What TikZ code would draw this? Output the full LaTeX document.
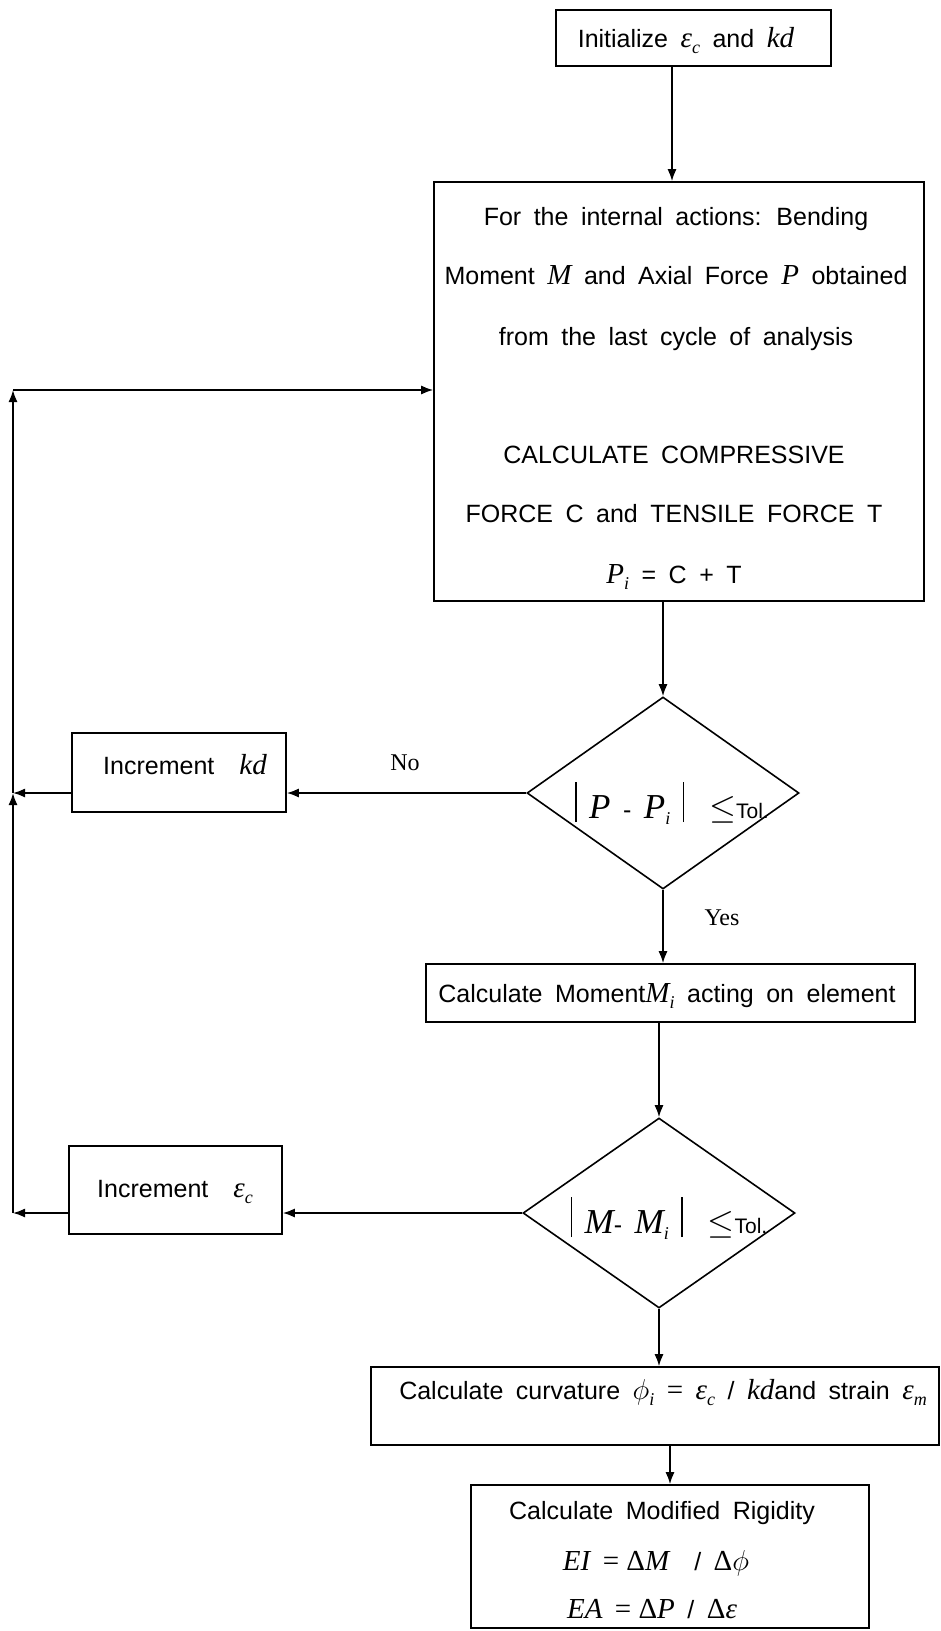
\documentclass[tikz,border=0pt]{standalone}
\usepackage{amsmath}
\usepackage{fontspec}
\setmainfont{Liberation Sans}[WordSpace=1.8]
\newfontfamily\labelfont{Liberation Serif}
\usetikzlibrary{shapes.geometric,arrows.meta}
% math-like pieces in a Times-like italic
\newcommand\V[1]{{\labelfont\itshape\fontsize{14.5}{17}\selectfont #1}}
\newcommand\VV[1]{{\labelfont\itshape\fontsize{17.5}{20}\selectfont #1}}
\newcommand\Sb[1]{\raisebox{-3pt}{\labelfont\itshape\fontsize{9}{10}\selectfont #1}}
\newcommand\Up[1]{{\labelfont\fontsize{14.5}{17}\selectfont #1}}
\newcommand\absbar{\rule[-2pt]{0.7pt}{20pt}}
\begin{document}
\begin{tikzpicture}[x=0.5pt,y=-0.5pt, line width=0.8pt,
  >={Latex[length=6pt,width=4.5pt]},
  box/.style={draw, rectangle, inner sep=0pt},
  dec/.style={draw, diamond, inner sep=0pt},
  txt/.style={inner sep=0pt, font=\fontsize{12.5}{15}\selectfont},
  lbl/.style={inner sep=0pt, font=\labelfont\fontsize{12}{14}\selectfont},
  conn/.style={->}]
\useasboundingbox (0,0) rectangle (941,1631);

% boxes
\node[box, minimum width=137.5pt, minimum height=28pt] (init) at (693.5,38) {};
\node[txt, anchor=base] (initT) at (686,48) {Initialize \V{ε}\Sb{c} and \V{kd}};

\node[box, minimum width=245pt, minimum height=209.5pt] (big) at (679,391.5) {};
\node[txt, anchor=base] (b1) at (676,226) {For the internal actions: Bending};
\node[txt, anchor=base] (b2) at (676,285) {Moment \V{M} and Axial Force \V{P} obtained};
\node[txt, anchor=base] (b3) at (676,345) {from the last cycle of analysis};
\node[txt, anchor=base] (b4) at (674,463) {CALCULATE COMPRESSIVE};
\node[txt, anchor=base] (b5) at (674,522) {FORCE C and TENSILE FORCE T};
\node[txt, anchor=base] (b6) at (674,583) {\V{P}\Sb{i} = C + T};

\node[dec, minimum width=136pt, minimum height=96pt] (d1) at (663,793) {};
\node[txt, anchor=base] (d1T) at (672,818) {\absbar\ \VV{P} - \VV{P}\Sb{i}\ \absbar\ \ {\fontsize{17}{20}\selectfont$\leq$}{\fontsize{10.5}{12}\selectfont Tol.}};

\node[box, minimum width=107pt, minimum height=39.5pt] (kd) at (179,772.5) {};
\node[txt, anchor=base] (kdT) at (185,774) {Increment\ \ \V{kd}};

\node[box, minimum width=244.5pt, minimum height=29pt] (Mi) at (670.5,993) {};
\node[txt, anchor=base] (MiT) at (667,1002) {Calculate Moment\V{M}\Sb{i} acting on element};

\node[dec, minimum width=136pt, minimum height=95pt] (d2) at (659,1213) {};
\node[txt, anchor=base] (d2T) at (669,1233) {\absbar\ \VV{M}- \VV{M}\Sb{i}\ \absbar\ \ {\fontsize{17}{20}\selectfont$\leq$}{\fontsize{10.5}{12}\selectfont Tol.}};

\node[box, minimum width=106.5pt, minimum height=44pt] (ec) at (175.5,1190) {};
\node[txt, anchor=base] (ecT) at (175,1197) {Increment\ \ \V{ε}\Sb{c}};

\node[box, minimum width=284pt, minimum height=39pt] (curv) at (655,1406) {};
\node[txt, anchor=base] (curvT) at (663,1399) {Calculate curvature {\fontsize{14.5}{17}\selectfont$\phi$}\Sb{i} \Up{=} \V{ε}\Sb{c} / \V{kd}and strain \V{ε}\Sb{m}};

\node[box, minimum width=199pt, minimum height=71.5pt] (final) at (670,1556.5) {};
\node[txt, anchor=base] (f1) at (662,1519) {Calculate Modified Rigidity};
\node[txt, anchor=base] (f2) at (656,1570) {\V{EI} \Up{= Δ}\V{M}\ \ / \Up{Δ}{\fontsize{14.5}{17}\selectfont$\phi$}};
\node[txt, anchor=base] (f3) at (652,1618) {\V{EA} \Up{= Δ}\V{P}\ / \Up{Δ}\V{ε}};

% labels
\node[lbl, anchor=base] (no) at (405,770) {No};
\node[lbl, anchor=base] (yes) at (722,925) {Yes};

% loop corners
\coordinate (L1) at (13,1213);
\coordinate (L2) at (13,793);
\coordinate (L3) at (13,390);

% connectors
\draw[conn] ([xshift=-10.75pt]init.south) -- ([xshift=-3.5pt]big.north);
\draw[conn] (big.south -| d1.north) -- (d1.north);
\draw[conn] (d1.west) -- (d1.west -| kd.east);
\draw[conn] (d1.west -| kd.west) -- (L2);
\draw[conn] (d1.south) -- (d1.south |- Mi.north);
\draw[conn] (Mi.south -| d2.north) -- (d2.north);
\draw[conn] (d2.west) -- (d2.west -| ec.east);
\draw[conn] (d2.west -| ec.west) -- (L1);
\draw[conn] (L1) -- (L2);
\draw[conn] (L2) -- (L3);
\draw[conn] (L3) -- (L3 -| big.west);
\draw[conn] (d2.south) -- (d2.south |- curv.north);
\draw[conn] (final.north |- curv.south) -- (final.north);
\end{tikzpicture}
\end{document}
